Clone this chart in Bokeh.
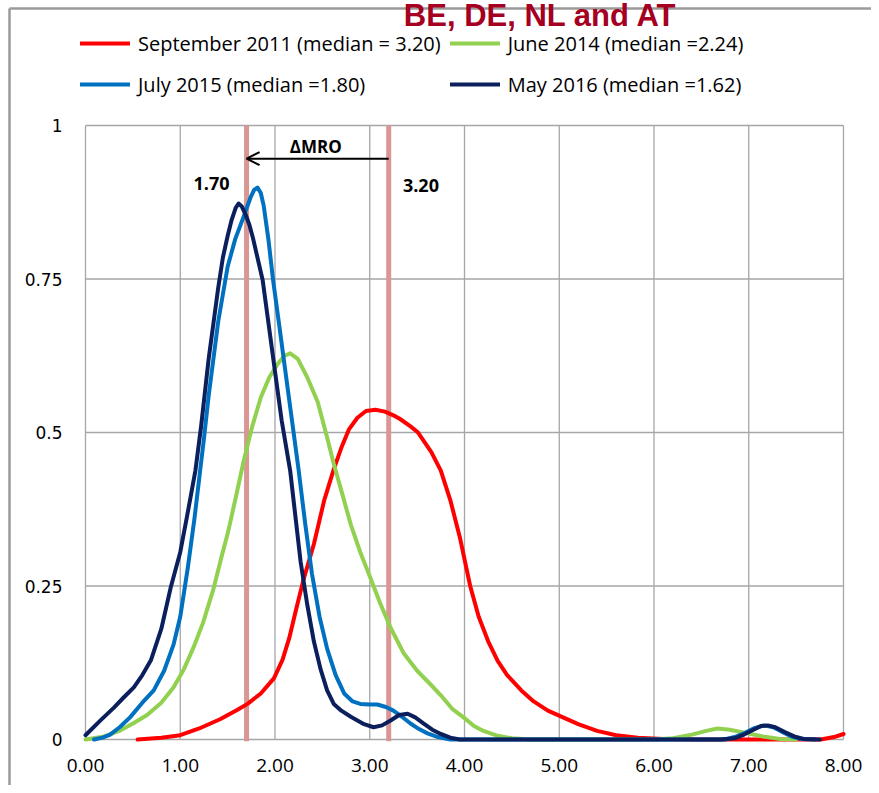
from bokeh.plotting import figure
from bokeh.models import (Range1d, Label, Legend, LegendItem, Arrow, OpenHead,
                          FixedTicker, NumeralTickFormatter)
from bokeh.embed import file_html
from bokeh.resources import INLINE

# ---------------- data ----------------
title_text = "BE, DE, NL and AT"

sep2011_x = [0.55, 0.8, 1.0, 1.2, 1.42, 1.6, 1.71, 1.85, 1.99, 2.08, 2.15, 2.22, 2.3, 2.41, 2.52,
             2.62, 2.7, 2.78, 2.87, 2.96, 3.06, 3.16, 3.25, 3.32, 3.43, 3.51, 3.65, 3.75, 3.85,
             3.95, 4.06, 4.15, 4.25, 4.35, 4.45, 4.6, 4.73, 4.88, 5.01, 5.2, 5.4, 5.6, 5.83,
             6.1, 6.5, 7.0, 7.5, 7.76, 7.9, 8.0]
sep2011_y = [0.0, 0.003, 0.007, 0.018, 0.033, 0.048, 0.058, 0.075, 0.1, 0.13, 0.165, 0.21, 0.26,
             0.318, 0.39, 0.44, 0.475, 0.505, 0.524, 0.535, 0.537, 0.534, 0.528, 0.522, 0.51,
             0.5, 0.468, 0.438, 0.39, 0.33, 0.25, 0.2, 0.16, 0.128, 0.105, 0.08, 0.062, 0.047,
             0.038, 0.025, 0.014, 0.007, 0.003, 0.001, 0.0, 0.0, 0.0, 0.0, 0.004, 0.009]

jun2014_x = [0.0, 0.2, 0.37, 0.51, 0.65, 0.8, 0.93, 1.04, 1.14, 1.24, 1.35, 1.44, 1.5, 1.58, 1.67,
             1.76, 1.85, 1.94, 2.03, 2.1, 2.16, 2.24, 2.34, 2.45, 2.55, 2.62, 2.71, 2.8, 2.9,
             3.01, 3.11, 3.22, 3.36, 3.5, 3.64, 3.75, 3.87, 3.99, 4.1, 4.2, 4.35, 4.5, 4.7,
             5.5, 6.0, 6.2, 6.4, 6.55, 6.67, 6.8, 6.99, 7.15, 7.33, 7.5]
jun2014_y = [0.0, 0.005, 0.015, 0.027, 0.04, 0.06, 0.085, 0.115, 0.15, 0.19, 0.245, 0.3, 0.335,
             0.39, 0.454, 0.51, 0.557, 0.59, 0.612, 0.625, 0.629, 0.62, 0.59, 0.55, 0.492, 0.449,
             0.4, 0.35, 0.305, 0.262, 0.222, 0.182, 0.14, 0.112, 0.09, 0.072, 0.05, 0.036, 0.022,
             0.014, 0.006, 0.002, 0.0, 0.0, 0.0, 0.002, 0.008, 0.014, 0.018, 0.016, 0.01, 0.005,
             0.001, 0.0]

jul2015_x = [0.09, 0.18, 0.26, 0.36, 0.47, 0.6, 0.72, 0.83, 0.93, 1.0, 1.08, 1.15, 1.21, 1.25, 1.3,
             1.4, 1.5, 1.58, 1.67, 1.74, 1.78, 1.815, 1.85, 1.88, 1.93, 1.98, 2.04, 2.09, 2.17,
             2.25, 2.32, 2.39, 2.47, 2.55, 2.64, 2.73, 2.82, 2.9, 3.0, 3.08, 3.17, 3.25, 3.34,
             3.43, 3.52, 3.61, 3.72, 3.85, 5.0, 6.75, 6.85, 6.95, 7.05, 7.16, 7.26, 7.36, 7.45,
             7.55, 7.7]
jul2015_y = [0.0, 0.003, 0.008, 0.02, 0.036, 0.06, 0.08, 0.112, 0.155, 0.2, 0.28, 0.36, 0.438,
             0.49, 0.56, 0.68, 0.77, 0.815, 0.852, 0.882, 0.895, 0.899, 0.89, 0.87, 0.815, 0.748,
             0.68, 0.622, 0.53, 0.438, 0.35, 0.27, 0.2, 0.148, 0.105, 0.075, 0.062, 0.058, 0.057,
             0.057, 0.053, 0.047, 0.037, 0.026, 0.017, 0.01, 0.004, 0.0, 0.0, 0.0, 0.004, 0.01,
             0.018, 0.023, 0.02, 0.012, 0.005, 0.001, 0.0]

may2016_x = [0.0, 0.15, 0.3, 0.4, 0.51, 0.6, 0.69, 0.8, 0.9, 1.0, 1.07, 1.16, 1.22, 1.3, 1.4,
             1.45, 1.5, 1.54, 1.585, 1.615, 1.65, 1.69, 1.73, 1.77, 1.87, 1.98, 2.07, 2.16, 2.27,
             2.34, 2.41, 2.48, 2.55, 2.62, 2.7, 2.8, 2.94, 3.04, 3.13, 3.22, 3.31, 3.4, 3.48,
             3.57, 3.66, 3.75, 3.85, 3.95, 5.0, 6.7, 6.85, 6.95, 7.05, 7.13, 7.2, 7.28, 7.38,
             7.48, 7.58, 7.75]
may2016_y = [0.007, 0.03, 0.052, 0.068, 0.085, 0.105, 0.129, 0.18, 0.248, 0.305, 0.362, 0.438,
             0.51, 0.62, 0.735, 0.785, 0.82, 0.845, 0.866, 0.873, 0.868, 0.855, 0.838, 0.815,
             0.748, 0.622, 0.52, 0.438, 0.29, 0.22, 0.16, 0.115, 0.08, 0.058, 0.047, 0.037,
             0.025, 0.02, 0.023, 0.031, 0.04, 0.042, 0.036, 0.026, 0.016, 0.009, 0.003, 0.0, 0.0,
             0.0, 0.002, 0.008, 0.016, 0.022, 0.023, 0.02, 0.012, 0.005, 0.001, 0.0]

series_labels = ["September 2011 (median = 3.20)", "June 2014 (median =2.24)",
                 "July 2015 (median =1.80)", "May 2016 (median =1.62)"]
series_colors = ["#FF0000", "#92D050", "#0070C0", "#0A1F5C"]

mro_x = [1.70, 3.20]
mro_labels = ["1.70", "3.20"]

x_ticks = [0, 1, 2, 3, 4, 5, 6, 7, 8]
y_ticks = [0, 0.25, 0.5, 0.75, 1]
y_tick_labels = ["0", "0.25", "0.5", "0.75", "1"]

# ---------------- figure ----------------
W, H = 871, 785
FONT = "Open Sans"
X0, X1 = -0.8971, 8.2955      # frame spans the whole canvas
Y0, Y1 = -0.0749, 1.2036

p = figure(width=W, height=H, output_backend="svg", toolbar_location=None,
           x_range=Range1d(X0, X1), y_range=Range1d(Y0, Y1),
           min_border_left=0, min_border_right=0, min_border_top=0, min_border_bottom=0)
p.outline_line_color = None
p.background_fill_color = "white"
p.border_fill_color = "white"

grid_color = "#a6a6a6"
p.xaxis.ticker = FixedTicker(ticks=x_ticks)
p.yaxis.ticker = FixedTicker(ticks=y_ticks)
p.xaxis.formatter = NumeralTickFormatter(format="0.00")
p.yaxis.major_label_overrides = {t: l for t, l in zip(y_ticks, y_tick_labels)}
p.xaxis.fixed_location = 0
p.yaxis.fixed_location = 0
for ax in (p.xaxis, p.yaxis):
    ax.axis_line_color = None
    ax.major_tick_line_color = None
    ax.minor_tick_line_color = None
    ax.major_tick_out = 0
    ax.major_tick_in = 0
    ax.major_label_text_color = "#000000"
p.xaxis.major_label_text_font = FONT
p.xaxis.major_label_text_font_size = "19px"
p.xaxis.major_label_standoff = 19
p.yaxis.major_label_text_font = "DejaVu Sans"
p.yaxis.major_label_text_font_size = "17px"
p.yaxis.major_label_standoff = 23
p.xgrid.visible = False
p.ygrid.visible = False

# grid lines limited to the data box (drawn from the tick arrays)
x_lo, x_hi = x_ticks[0], x_ticks[-1]
y_lo, y_hi = y_ticks[0], y_ticks[-1]
p.segment(x0=x_ticks, x1=x_ticks, y0=y_lo, y1=y_hi, line_color=grid_color, line_width=1.3)
p.segment(x0=x_lo, x1=x_hi, y0=y_ticks, y1=y_ticks, line_color=grid_color, line_width=1.3)

# page frame lines of the source (top and left edges)
edge_x, edge_y = -0.8021, 1.1906
p.segment(x0=[edge_x, edge_x], x1=[X1, edge_x], y0=[edge_y, edge_y], y1=[edge_y, Y0],
          line_color="#9a9a9a", line_width=2.5)

# MRO vertical bars
p.segment(x0=mro_x, x1=mro_x, y0=-0.003, y1=1.0, line_color="#D99694", line_width=5)

renderers = []
for xs, ys, c in [(sep2011_x, sep2011_y, series_colors[0]), (jun2014_x, jun2014_y, series_colors[1]),
                  (jul2015_x, jul2015_y, series_colors[2]), (may2016_x, may2016_y, series_colors[3])]:
    renderers.append(p.line(xs, ys, line_color=c, line_width=4, line_join="round", line_cap="round"))

legend = Legend(items=[LegendItem(label=l, renderers=[r]) for l, r in zip(series_labels, renderers)],
                ncols=2, location=(80, 685), orientation="horizontal",
                glyph_width=50, glyph_height=32, label_height=32, label_standoff=8, spacing=9,
                padding=0, margin=0, border_line_color=None, background_fill_alpha=0,
                label_text_font=FONT, label_text_font_size="20px", label_text_color="#000000")
p.add_layout(legend, "center")

# Arrow and annotations
p.add_layout(Arrow(end=OpenHead(size=13, line_width=2, line_color="black"),
                   x_start=mro_x[1], y_start=0.946, x_end=mro_x[0], y_end=0.946,
                   line_width=2, line_color="black"))
p.add_layout(Label(x=2.43, y=0.966, text="\u0394MRO", text_align="center", text_baseline="middle",
                   text_font=FONT, text_font_style="bold", text_font_size="17px", text_color="black"))
p.add_layout(Label(x=1.33, y=0.906, text=mro_labels[0], text_align="center", text_baseline="middle",
                   text_font=FONT, text_font_style="bold", text_font_size="18px", text_color="black"))
p.add_layout(Label(x=3.54, y=0.902, text=mro_labels[1], text_align="center", text_baseline="middle",
                   text_font=FONT, text_font_style="bold", text_font_size="18px", text_color="black"))

# Title near the top edge of the page, as in the source
p.add_layout(Label(x=540, y=H - 15, x_units="screen", y_units="screen", text=title_text,
                   text_align="center", text_baseline="alphabetic",
                   text_font="Liberation Sans", text_font_style="bold", text_font_size="31px",
                   text_color="#A50021"))

open("out.html", "w").write(file_html(p, INLINE))
